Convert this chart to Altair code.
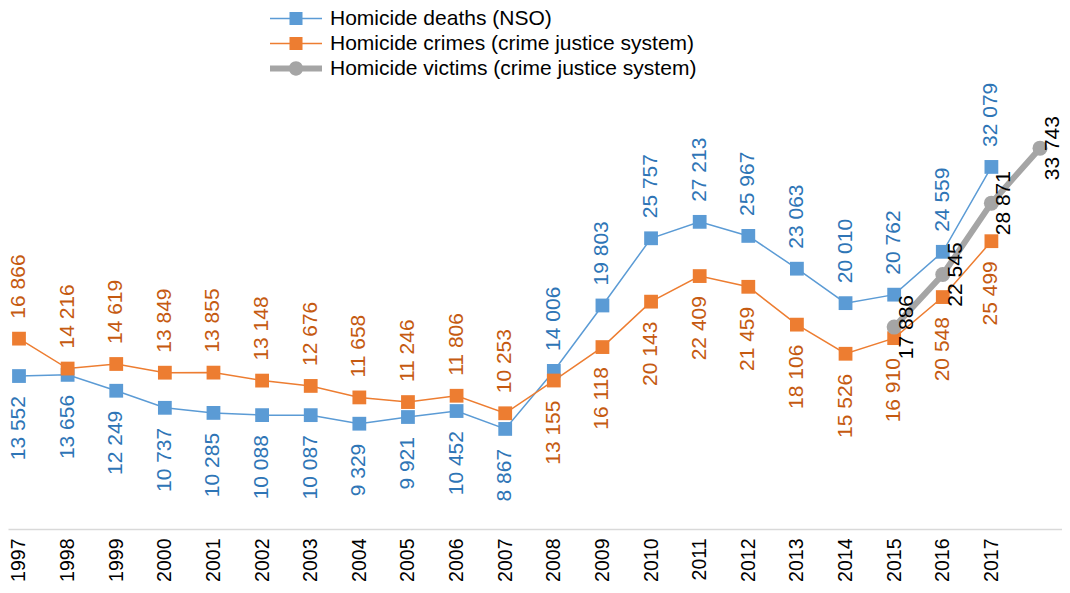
import altair as alt
import pandas as pd

FONT = "Liberation Sans"

years = list(range(1997, 2018))
deaths = [13552, 13656, 12249, 10737, 10285, 10088, 10087, 9329, 9921, 10452, 8867,
          14006, 19803, 25757, 27213, 25967, 23063, 20010, 20762, 24559, 32079]
crimes = [16866, 14216, 14619, 13849, 13855, 13148, 12676, 11658, 11246, 11806, 10253,
          13155, 16118, 20143, 22409, 21459, 18106, 15526, 16910, 20548, 25499]
victim_years = [2015, 2016, 2017, 2018]
victims = [17886, 22545, 28871, 33743]
x_ticks = list(range(1997, 2018))

S_D = "Homicide deaths (NSO)"
S_C = "Homicide crimes (crime justice system)"
S_V = "Homicide victims (crime justice system)"
series_names = [S_D, S_C, S_V]
marker_colors = ["#5B9BD5", "#ED7D31", "#A5A5A5"]
label_colors = ["#2E75B6", "#C55A11", "#000000"]
legend_paths = [
    "M-4,-0.115H4V0.115H-4Z M-1,-1H1V1H-1Z",
    "M-4,-0.115H4V0.115H-4Z M-1,-1H1V1H-1Z",
    "M-4,-0.46H4V0.46H-4Z M1.1,0A1.1,1.1,0,1,1,-1.1,0A1.1,1.1,0,1,1,1.1,0Z",
]


def fmt(v):
    return f"{v:,}".replace(",", " ")


rows = []
for yr, d, c in zip(years, deaths, crimes):
    rows.append(dict(year=yr, value=d, series=S_D, label=fmt(d), upper=bool(d > c)))
    rows.append(dict(year=yr, value=c, series=S_C, label=fmt(c), upper=bool(c > d)))
for yr, v in zip(victim_years, victims):
    rows.append(dict(year=yr, value=v, series=S_V, label=fmt(v), upper=False))
df = pd.DataFrame(rows)

x = alt.X(
    "year:Q",
    scale=alt.Scale(domain=[1996.7738, 2018.4521], nice=False, zero=False),
    axis=alt.Axis(
        values=x_ticks, format="d", labelAngle=-90, title=None, grid=False,
        ticks=False, tickSize=0, labelPadding=9, labelFontSize=19.5, labelFont=FONT,
        labelColor="#000000", domainColor="#D9D9D9", domainWidth=1.5,
        labelFlush=False, labelOverlap=False, labelBound=False,
    ),
)
y = alt.Y("value:Q", scale=alt.Scale(domain=[0, 46160], nice=False), axis=None)
color = alt.Color("series:N", scale=alt.Scale(domain=series_names, range=marker_colors))
text_fill = alt.Fill("series:N", scale=alt.Scale(domain=series_names, range=label_colors), legend=None)

base = alt.Chart(df).encode(x=x, y=y)
not_v = alt.datum.series != S_V
is_v = alt.datum.series == S_V

leg = alt.Legend(
    title=None, orient="none", legendX=261.5, legendY=0, direction="vertical",
    symbolSize=169, symbolOffset=16, labelOffset=23.5, labelFontSize=21,
    labelFont=FONT, labelColor="#000000", rowPadding=3, padding=0,
    symbolStrokeWidth=0, symbolOpacity=1, labelLimit=0,
)
legend_layer = base.mark_point(filled=True, opacity=0).encode(
    color=alt.Color("series:N", scale=alt.Scale(domain=series_names, range=marker_colors), legend=leg),
    shape=alt.Shape("series:N", scale=alt.Scale(domain=series_names, range=legend_paths), legend=leg),
)

thin_lines = base.transform_filter(not_v).mark_line(strokeWidth=1.5).encode(color=color)
squares = base.transform_filter(not_v).mark_point(
    shape="square", filled=True, size=190, opacity=1).encode(color=color)
thick_line = base.transform_filter(is_v).mark_line(strokeWidth=6).encode(color=color)
circles = base.transform_filter(is_v).mark_point(
    shape="circle", filled=True, size=225, opacity=1).encode(color=color)

above = base.transform_filter(not_v & alt.datum.upper).mark_text(
    angle=270, align="left", baseline="middle", dx=20, font=FONT, fontSize=21
).encode(text="label:N", fill=text_fill)
below = base.transform_filter(not_v & (alt.datum.upper == False)).mark_text(
    angle=270, align="right", baseline="middle", dx=-20, font=FONT, fontSize=21
).encode(text="label:N", fill=text_fill)
vlabels = base.transform_filter(is_v).mark_text(
    angle=270, align="center", baseline="middle", dy=13, font=FONT, fontSize=21
).encode(text="label:N", fill=text_fill)

chart = alt.layer(
    legend_layer, thin_lines, squares, thick_line, circles, above, below, vlabels
).properties(
    width=1054, height=521,
    padding={"left": 0, "top": 0, "right": 0, "bottom": 55},
    autosize=alt.AutoSizeParams(type="none"),
).configure_view(stroke=None)

chart.save("out.html", embed_options={"renderer": "svg", "actions": False})
